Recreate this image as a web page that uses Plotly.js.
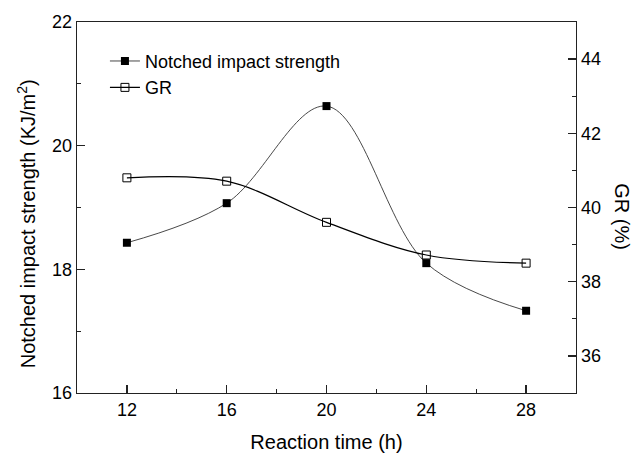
<!DOCTYPE html>
<html>
<head>
<meta charset="utf-8">
<script src="https://cdn.plot.ly/plotly-3.0.1.min.js"></script>
<style>html,body{margin:0;padding:0;background:#fff;}#chart{width:637px;height:454px;}</style>
</head>
<body>
<div id="chart"></div>
<script>
const reactionTime = [12, 16, 20, 24, 28];
const notchedImpact = [18.43, 19.07, 20.64, 18.10, 17.33];
const grPercent = [40.80, 40.71, 39.60, 38.72, 38.50];
const xTicks = [12, 16, 20, 24, 28];
const yLeftTicks = [16, 18, 20, 22];
const yRightTicks = [36, 38, 40, 42, 44];

const FONT = 'Arial, "Liberation Sans", Helvetica, sans-serif';

const traces = [
  {
    x: reactionTime, y: notchedImpact, name: 'Notched impact strength',
    type: 'scatter', mode: 'lines+markers',
    line: {shape: 'spline', smoothing: 1, color: '#333', width: 0.9},
    marker: {symbol: 'square', size: 8, color: '#000', line: {color: '#000', width: 0}},
    yaxis: 'y'
  },
  {
    x: reactionTime, y: grPercent, name: 'GR',
    type: 'scatter', mode: 'lines+markers',
    line: {shape: 'spline', smoothing: 1, color: '#000', width: 1.2},
    marker: {symbol: 'square-open', size: 8, color: '#000', line: {color: '#000', width: 1}},
    yaxis: 'y2'
  }
];

const layout = {
  width: 637, height: 454,
  margin: {l: 77, r: 61, t: 22, b: 61, pad: 0},
  paper_bgcolor: '#fff', plot_bgcolor: '#fff',
  font: {family: FONT, size: 18, color: '#000'},
  showlegend: true,
  legend: {
    x: 0.056, y: 0.944, xanchor: 'left', yanchor: 'top',
    bgcolor: 'rgba(0,0,0,0)', font: {family: FONT, size: 18, color: '#000'},
    tracegroupgap: 0
  },
  xaxis: {
    range: [10, 30], tickvals: xTicks, ticktext: xTicks.map(String),
    ticks: 'inside', ticklen: 8, tickwidth: 1.3, tickcolor: '#222',
    minor: {ticks: 'inside', ticklen: 4, tickwidth: 1, tickcolor: '#222', dtick: 2, tick0: 10, showgrid: false},
    showline: true, linecolor: '#222', linewidth: 1.3, mirror: true,
    showgrid: false, zeroline: false,
    tickfont: {family: FONT, size: 18},
    title: {text: 'Reaction time (h)', font: {family: FONT, size: 20}, standoff: 16},
    automargin: false
  },
  yaxis: {
    range: [16, 22], tickvals: yLeftTicks, ticktext: yLeftTicks.map(String),
    ticks: 'inside', ticklen: 8, tickwidth: 1.3, tickcolor: '#222',
    minor: {ticks: 'inside', ticklen: 4, tickwidth: 1, tickcolor: '#222', dtick: 1, tick0: 16, showgrid: false},
    showline: true, linecolor: '#222', linewidth: 1.3,
    showgrid: false, zeroline: false,
    tickfont: {family: FONT, size: 18},
    automargin: false
  },
  yaxis2: {
    overlaying: 'y', side: 'right', range: [35, 45],
    tickvals: yRightTicks, ticktext: yRightTicks.map(String),
    ticks: 'inside', ticklen: 8, tickwidth: 1.3, tickcolor: '#222',
    minor: {ticks: 'inside', ticklen: 4, tickwidth: 1, tickcolor: '#222', dtick: 1, tick0: 35, showgrid: false},
    showline: true, linecolor: '#222', linewidth: 1.3,
    showgrid: false, zeroline: false,
    tickfont: {family: FONT, size: 18},
    automargin: false
  },
  annotations: [
    {text: 'Notched impact strength (KJ/m<sup>2</sup>)', xref: 'paper', yref: 'paper',
     x: -0.102, y: 0.455, xanchor: 'center', yanchor: 'middle', textangle: -90,
     showarrow: false, font: {family: FONT, size: 20, color: '#000'}},
    {text: 'GR (%)', xref: 'paper', yref: 'paper',
     x: 1.092, y: 0.474, xanchor: 'center', yanchor: 'middle', textangle: 90,
     showarrow: false, font: {family: FONT, size: 20, color: '#000'}}
  ]
};

Plotly.newPlot('chart', traces, layout, {displayModeBar: false, staticPlot: true});
</script>
</body>
</html>
